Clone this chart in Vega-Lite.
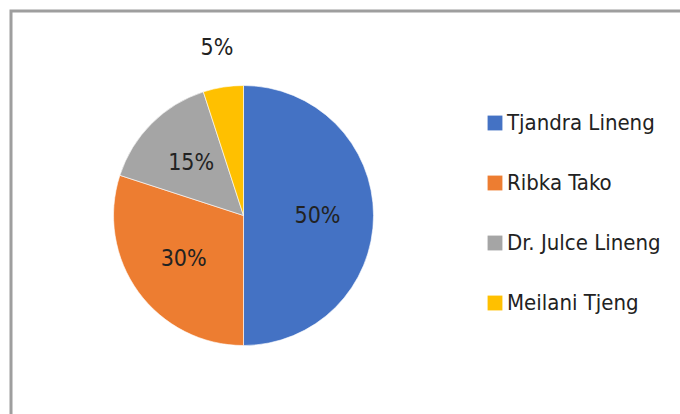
{
  "$schema": "https://vega.github.io/schema/vega-lite/v6.json",
  "width": 672,
  "height": 405,
  "padding": {"left": 11, "top": 11, "right": 0, "bottom": 0},
  "background": "white",
  "config": {"view": {"stroke": "#9e9e9e", "strokeWidth": 3}},
  "data": {
    "values": [
      {"name": "Tjandra Lineng", "share": 0.5},
      {"name": "Ribka Tako", "share": 0.3},
      {"name": "Dr. Julce Lineng", "share": 0.15},
      {"name": "Meilani Tjeng", "share": 0.05}
    ]
  },
  "encoding": {
    "theta": {"field": "share", "type": "quantitative", "stack": true},
    "order": {"field": "share", "sort": "descending"},
    "x": {"datum": 0, "type": "quantitative", "scale": {"domain": [-1, 1.89], "nice": false, "zero": false}, "axis": null},
    "y": {"datum": 0, "type": "quantitative", "scale": {"domain": [-1, 1.02], "nice": false, "zero": false}, "axis": null}
  },
  "layer": [
    {
      "mark": {"type": "arc", "radius": 130, "stroke": "#ffffff", "strokeWidth": 0.6},
      "encoding": {
        "color": {
          "field": "name",
          "type": "nominal",
          "sort": null,
          "scale": {
            "domain": ["Tjandra Lineng", "Ribka Tako", "Dr. Julce Lineng", "Meilani Tjeng"],
            "range": ["#4472C4", "#ED7D31", "#A5A5A5", "#FFC000"]
          },
          "legend": {
            "orient": "none",
            "legendX": 473,
            "legendY": 101,
            "title": null,
            "symbolType": "square",
            "symbolSize": 220,
            "symbolStrokeWidth": 0,
            "labelFont": "DejaVu Sans Condensed, DejaVu Sans",
            "labelFontSize": 22,
            "labelColor": "#222222",
            "labelLimit": 300,
            "rowPadding": 38,
            "labelOffset": 1
          }
        }
      }
    },
    {
      "mark": {"type": "text", "radius": 74, "font": "DejaVu Sans Condensed, DejaVu Sans", "fontSize": 23, "fill": "#222222"},
      "encoding": {
        "text": {"condition": {"test": "datum.share >= 0.1", "field": "share", "type": "quantitative", "format": ".0%"}, "value": ""}
      }
    },
    {
      "mark": {"type": "text", "radius": 170, "font": "DejaVu Sans Condensed, DejaVu Sans", "fontSize": 23, "fill": "#222222"},
      "encoding": {
        "text": {"condition": {"test": "datum.share < 0.1", "field": "share", "type": "quantitative", "format": ".0%"}, "value": ""}
      }
    }
  ]
}
